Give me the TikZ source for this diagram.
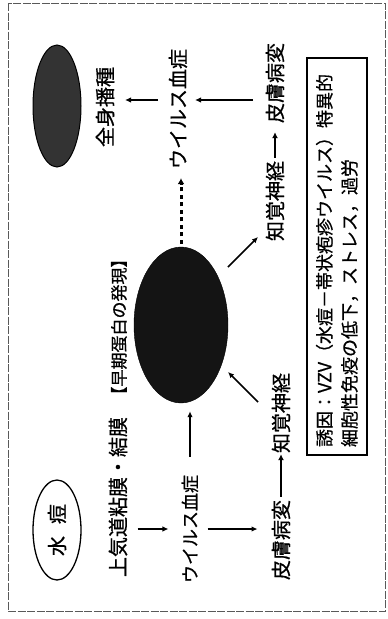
\documentclass[tikz,border=0pt]{standalone}
\usepackage{fontspec}
\newfontfamily\jp{Noto Sans CJK JP}[FakeBold=0.7]
\usetikzlibrary{shapes.geometric,arrows.meta,calc}
\begin{document}
\begin{tikzpicture}[x=1pt,y=-1pt,
  lbl/.style={font=\jp\fontsize{20}{20}\selectfont, rotate=90, inner sep=1pt},
  arr/.style={line width=1.6pt, -{Latex[length=6pt,width=5.5pt]}},
  thickarr/.style={line width=2.6pt, -{Latex[length=6pt,width=6pt]}},
  dotarr/.style={line width=3pt, dash pattern=on 4pt off 3.5pt, -{Latex[length=6pt,width=7pt]}},
  frame/.style={line width=0.7pt, black!65, dash pattern=on 8pt off 1.5pt}]
\fill[white] (0,0) rectangle (388,619);
\useasboundingbox (0,0) rectangle (388,619);
\draw[frame] (8,3) rectangle (385,611);

% ellipses
\node[ellipse, draw, line width=1.3pt, rotate=90, minimum width=100pt, minimum height=48pt,
      inner sep=0pt, font=\jp\fontsize{20}{20}\selectfont] (suito) at (57,530) {水\hspace{0.6em}痘};
\node[ellipse, draw=black, line width=1pt, fill=black!80, minimum width=48pt, minimum height=122pt] (dark) at (57,106) {};
\node[ellipse, draw=black, fill=black!92, minimum width=94pt, minimum height=156pt] (big) at (181,325) {};

% labels
\node[lbl] (zs) at (105,107) {全身播種};
\node[lbl] (jk) at (118,497) {上気道粘膜・結膜};
\node[lbl, font=\jp\fontsize{17}{17}\selectfont] (sou) at (119,327) {【早期蛋白の発現】};
\node[lbl, font=\jp\fontsize{18}{18}\selectfont] (wv1) at (190,529) {ウイルス血症};
\node[lbl] (wv2) at (178,109) {ウイルス血症};
\node[lbl] (hifu1) at (281,540) {皮膚病変};
\node[lbl] (chi1) at (281,413) {知覚神経};
\node[lbl] (chi2) at (275,201) {知覚神経};
\node[lbl] (hifu2) at (275,83) {皮膚病変};

\node[draw, line width=1.2pt, rotate=90, align=left, font=\jp\fontsize{18}{25}\selectfont,
      minimum width=397pt, minimum height=60pt, text width=381pt, inner sep=0pt] (box) at (337,256.5)
  {誘因：VZV（水痘－帯状疱疹ウイルス）特異的\\細胞性免疫の低下，ストレス，過労};

% connectors
\draw[arr, shorten <=9pt, shorten >=12pt] (jk.south |- wv1) -- (wv1.north);
\draw[arr, shorten <=8pt, shorten >=13pt] (wv1.south) -- (wv1.south -| hifu1.north);
\draw[thickarr, shorten <=2pt] (hifu1.east) -- (chi1.west);
\draw[arr, shorten <=17pt, shorten >=8pt] (wv1.east) -- (wv1.east |- big.south);
\draw[arr] ($(chi1)+(-23,-11)$) -- ($(big)+(47,47)$);
\draw[arr] ($(big)+(47,-58)$) -- ($(chi2)+(-17,36)$);
\draw[dotarr, shorten <=3pt] (big.north) -- ($(big.north |- wv2.west)+(0,8)$);
\draw[thickarr, shorten <=2pt, shorten >=8pt] (chi2.east) -- (chi2.east |- hifu2.west);
\draw[arr] ($(hifu2)+(-22,17)$) -- ($(wv2)+(17,-9)$);
\draw[arr] ($(wv2)+(-20,-9)$) -- ($(zs)+(20,-7)$);
\end{tikzpicture}
\end{document}
